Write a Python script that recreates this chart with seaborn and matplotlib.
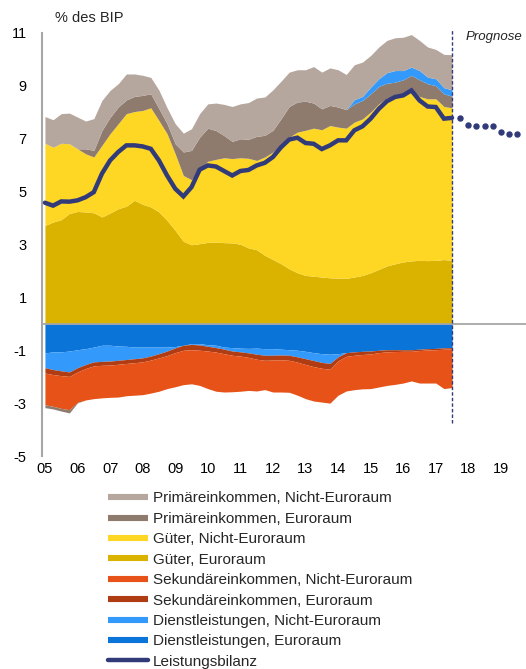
import numpy as np
import pandas as pd
import matplotlib
matplotlib.use("Agg")
import matplotlib.pyplot as plt
from matplotlib.lines import Line2D
import seaborn as sns

# ------------------------------
# Data (% des BIP), quarterly 2005Q1 - 2017Q3
# ------------------------------
quarters = pd.period_range("2005Q1", "2017Q3", freq="Q")
forecast_quarters = pd.period_range("2017Q4", "2019Q3", freq="Q")
year_labels = [f"{y % 100:02d}" for y in range(2005, 2020)]

prim_nicht = [1.01, 1.04, 1.12, 1.16, 1.20, 1.05, 1.20, 1.14, 1.02, 0.88,
              0.98, 0.85, 0.76, 0.62, 0.70, 0.60, 0.76, 0.71, 0.82, 0.89,
              0.92, 1.04, 1.18, 1.32, 1.32, 1.39, 1.45, 1.45, 1.53, 1.42,
              1.30, 1.22, 1.19, 1.38, 1.39, 1.42, 1.41, 1.33, 1.32, 1.30,
              1.20, 1.20, 1.22, 1.24, 1.26, 1.23, 1.14, 1.14, 1.11, 1.26, 1.33]
prim_euro = [-0.11, -0.10, -0.10, -0.12, -0.02, 0.19, 0.25, 0.56, 0.62, 0.63,
             0.52, 0.57, 0.57, 0.53, 0.45, 0.38, 0.38, 0.89, 1.11, 1.19,
             1.25, 1.09, 0.84, 0.65, 0.72, 0.72, 0.91, 0.82, 0.82, 1.01,
             1.16, 1.14, 1.10, 0.95, 0.79, 0.76, 0.76, 0.70, 0.69, 0.70,
             0.69, 0.66, 0.56, 0.50, 0.53, 0.55, 0.63, 0.57, 0.50, 0.48, 0.44]
gueter_nicht = [3.11, 2.83, 2.89, 2.64, 2.37, 2.20, 2.11, 2.71, 3.00, 3.22,
                3.50, 3.36, 3.55, 3.75, 3.46, 3.28, 2.90, 2.49, 2.46, 2.84,
                3.07, 3.13, 3.21, 3.19, 3.27, 3.39, 3.38, 3.72, 4.07, 4.48,
                4.98, 5.32, 5.49, 5.60, 5.57, 5.76, 5.71, 5.68, 5.86, 5.92,
                6.08, 6.26, 6.35, 6.37, 6.36, 6.47, 6.20, 6.12, 6.11, 5.79, 5.77]
gueter_euro = [3.72, 3.85, 3.94, 4.17, 4.25, 4.23, 4.20, 4.04, 4.19, 4.35,
               4.45, 4.67, 4.52, 4.42, 4.23, 3.91, 3.53, 3.12, 2.99, 3.03,
               3.08, 3.09, 3.07, 3.06, 3.01, 2.87, 2.80, 2.59, 2.43, 2.27,
               2.08, 1.93, 1.83, 1.80, 1.77, 1.74, 1.73, 1.72, 1.77, 1.83,
               1.93, 2.06, 2.19, 2.27, 2.34, 2.38, 2.40, 2.39, 2.40, 2.43, 2.40]
sek_nicht = [-1.20, -1.20, -1.24, -1.26, -1.15, -1.19, -1.24, -1.23, -1.22, -1.24,
             -1.22, -1.23, -1.24, -1.25, -1.26, -1.25, -1.29, -1.30, -1.29, -1.33,
             -1.42, -1.48, -1.45, -1.38, -1.33, -1.25, -1.20, -1.11, -1.21, -1.22,
             -1.21, -1.25, -1.29, -1.30, -1.28, -1.28, -1.30, -1.31, -1.30, -1.30,
             -1.31, -1.30, -1.27, -1.24, -1.20, -1.12, -1.23, -1.25, -1.26, -1.49, -1.46]
sek_euro = [-0.20, -0.19, -0.18, -0.17, -0.16, -0.15, -0.15, -0.15, -0.15, -0.15,
            -0.15, -0.15, -0.15, -0.15, -0.16, -0.17, -0.18, -0.19, -0.20, -0.20,
            -0.18, -0.17, -0.17, -0.16, -0.16, -0.17, -0.19, -0.19, -0.18, -0.18,
            -0.19, -0.20, -0.22, -0.23, -0.22, -0.22, -0.15, -0.14, -0.13, -0.12,
            -0.11, -0.09, -0.08, -0.07, -0.06, -0.06, -0.05, -0.05, -0.05, -0.05, -0.05]
dienst_nicht = [-0.56, -0.67, -0.72, -0.79, -0.68, -0.60, -0.56, -0.61, -0.60, -0.54,
                -0.50, -0.44, -0.41, -0.34, -0.25, -0.15, -0.05, 0.00, -0.03, -0.05,
                -0.06, -0.09, -0.08, -0.13, -0.14, -0.17, -0.23, -0.25, -0.25, -0.22,
                -0.21, -0.25, -0.28, -0.30, -0.33, -0.35, -0.12, 0.00, 0.16, 0.15,
                0.25, 0.29, 0.40, 0.44, 0.35, 0.31, 0.35, 0.25, 0.26, 0.23, 0.24]
dienst_euro = [-1.10, -1.06, -1.06, -1.03, -0.98, -0.94, -0.88, -0.81, -0.81, -0.84,
               -0.85, -0.88, -0.88, -0.88, -0.88, -0.88, -0.86, -0.81, -0.75, -0.75,
               -0.79, -0.81, -0.88, -0.90, -0.92, -0.93, -0.92, -0.94, -0.94, -0.96,
               -0.98, -1.00, -1.04, -1.09, -1.13, -1.15, -1.13, -1.09, -1.06, -1.04,
               -1.03, -1.00, -0.98, -0.98, -0.98, -0.98, -0.96, -0.94, -0.93, -0.91, -0.90]
leistungsbilanz = [4.58, 4.47, 4.63, 4.62, 4.67, 4.79, 4.98, 5.68, 6.18, 6.50,
                   6.75, 6.75, 6.71, 6.62, 6.18, 5.61, 5.11, 4.82, 5.17, 5.83,
                   5.99, 5.95, 5.78, 5.61, 5.78, 5.82, 5.99, 6.09, 6.31, 6.68,
                   6.97, 7.04, 6.84, 6.81, 6.61, 6.75, 6.94, 6.94, 7.32, 7.47,
                   7.76, 8.13, 8.42, 8.58, 8.64, 8.83, 8.45, 8.22, 8.20, 7.76, 7.79]
prognose = [7.79, 7.52, 7.48, 7.48, 7.48, 7.24, 7.19, 7.19]

series = {
    "Primäreinkommen, Nicht-Euroraum": prim_nicht,
    "Primäreinkommen, Euroraum": prim_euro,
    "Güter, Nicht-Euroraum": gueter_nicht,
    "Güter, Euroraum": gueter_euro,
    "Sekundäreinkommen, Nicht-Euroraum": sek_nicht,
    "Sekundäreinkommen, Euroraum": sek_euro,
    "Dienstleistungen, Nicht-Euroraum": dienst_nicht,
    "Dienstleistungen, Euroraum": dienst_euro,
}
colors = {
    "Primäreinkommen, Nicht-Euroraum": "#b5a69e",
    "Primäreinkommen, Euroraum": "#8f7b6e",
    "Güter, Nicht-Euroraum": "#fed624",
    "Güter, Euroraum": "#d9b300",
    "Sekundäreinkommen, Nicht-Euroraum": "#e65218",
    "Sekundäreinkommen, Euroraum": "#b03c13",
    "Dienstleistungen, Nicht-Euroraum": "#3399fa",
    "Dienstleistungen, Euroraum": "#0a74d8",
}
navy = "#323b7a"

pos_order = ["Güter, Euroraum", "Güter, Nicht-Euroraum", "Primäreinkommen, Euroraum",
             "Dienstleistungen, Nicht-Euroraum", "Primäreinkommen, Nicht-Euroraum"]
neg_order = ["Dienstleistungen, Euroraum", "Dienstleistungen, Nicht-Euroraum",
             "Sekundäreinkommen, Euroraum", "Sekundäreinkommen, Nicht-Euroraum",
             "Primäreinkommen, Euroraum"]

x = quarters.year + (quarters.quarter - 1) / 4
xf = forecast_quarters.year + (forecast_quarters.quarter - 1) / 4
df = pd.DataFrame(series)
df["x"] = x
df["Leistungsbilanz"] = leistungsbilanz

# ------------------------------
# Plot
# ------------------------------
sns.set_style("white")
plt.rcParams["font.family"] = ["Liberation Sans", "DejaVu Sans"]
plt.rcParams["axes.unicode_minus"] = False

fig = plt.figure(figsize=(5.26, 6.69), dpi=100)
ax = fig.add_axes([42 / 526, 213 / 669, 484 / 526, 423 / 669])

base = np.zeros(len(df))
for name in pos_order:
    v = df[name].clip(lower=0).to_numpy()
    ax.fill_between(df["x"], base, base + v, color=colors[name], lw=0, zorder=1)
    base = base + v
base = np.zeros(len(df))
for name in neg_order:
    v = df[name].clip(upper=0).to_numpy()
    ax.fill_between(df["x"], base, base + v, color=colors[name], lw=0, zorder=1)
    base = base + v

ax.axhline(0, color="#a6a6a6", lw=1.3, zorder=2)

sns.lineplot(data=df, x="x", y="Leistungsbilanz", color=navy, lw=3.2,
             ax=ax, zorder=4, solid_joinstyle="miter")
ax.plot(xf, prognose, "o", ms=3.6, color=navy, linestyle="none", zorder=4)

# forecast separator
ax.plot([2017.5, 2017.5], [-3.77, 11.1], color=navy, lw=1,
        ls=(0, (2.5, 1.5)), clip_on=False, zorder=5)

ax.set_xlim(2004.91, 2019.77)
ax.set_ylim(-5, 11)
ax.set_yticks(range(-5, 12, 2))
ax.set_xticks(range(2005, 2020))
ax.set_xticklabels(year_labels)
ax.set_xlabel("")
ax.set_ylabel("")
ax.tick_params(axis="both", length=0, labelsize=10.5, colors="#000000")
ax.tick_params(axis="y", pad=11)
ax.tick_params(axis="x", pad=4)
for s in ["top", "right", "bottom"]:
    ax.spines[s].set_visible(False)
ax.spines["left"].set_color("#a6a6a6")
ax.spines["left"].set_linewidth(1.5)

fig.text(55 / 526, 1 - 18 / 669, "% des BIP", fontsize=10.5, va="center", ha="left")
fig.text(466 / 526, 1 - 37 / 669, "Prognose", fontsize=9.5, style="italic",
         va="center", ha="left")

# legend
handles = [Line2D([], [], color=colors[n], lw=4.4, solid_capstyle="butt") for n in series]
handles.append(Line2D([], [], color=navy, lw=3.2, solid_capstyle="round"))
labels = list(series) + ["Leistungsbilanz"]
fig.legend(handles, labels, loc="upper left", bbox_to_anchor=(108 / 526, 1 - 491.5 / 669),
           frameon=False, fontsize=11, handlelength=2.6, handletextpad=0.33,
           labelspacing=0.42, borderpad=0, borderaxespad=0)

fig.savefig("out.png", dpi=100)
